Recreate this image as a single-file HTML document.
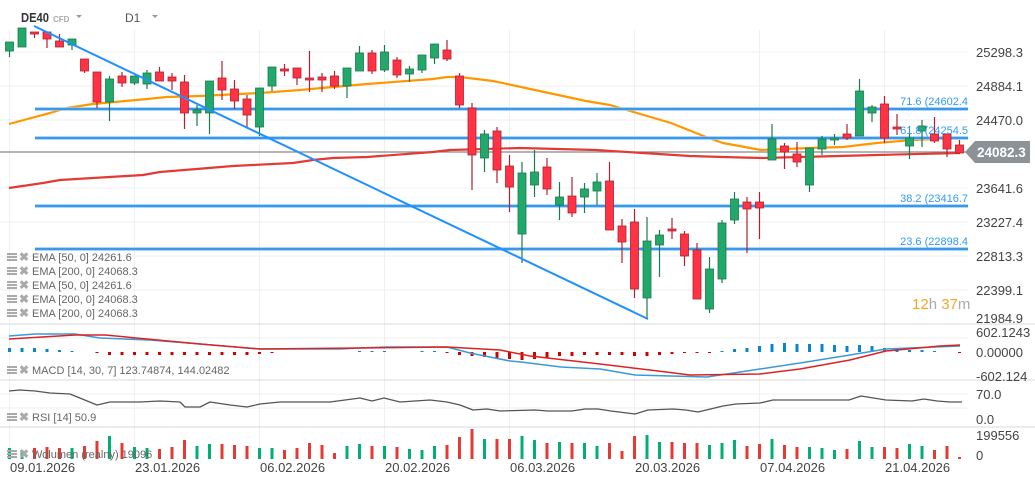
<!DOCTYPE html>
<html><head><meta charset="utf-8"><style>
html,body{margin:0;padding:0;background:#fff;}
svg{display:block;font-family:"Liberation Sans",sans-serif;}
</style></head><body>
<svg id="s" width="1035" height="485" viewBox="0 0 1035 485" xmlns="http://www.w3.org/2000/svg">
<g id="grid" stroke="#efefef" stroke-width="1"></g>
<g id="main"></g>
<g font-size="13" fill="#444">
<text x="976" y="57">25298.3</text>
<text x="976" y="91">24884.1</text>
<text x="976" y="125">24470.0</text>
<text x="976" y="193">23641.6</text>
<text x="976" y="227">23227.4</text>
<text x="976" y="261">22813.3</text>
<text x="976" y="295">22399.1</text>
<text x="976" y="323">21984.9</text>
<text x="976" y="337">602.1243</text>
<text x="976" y="357">0.00000</text>
<text x="976" y="381">-602.124</text>
<text x="976" y="399">70.0</text>
<text x="976" y="424">0.0</text>
<text x="976" y="440">199556</text>
<text x="976" y="460">0</text>
</g>
<g font-size="13" fill="#444">
<text x="10" y="472">09.01.2026</text>
<text x="135" y="472">23.01.2026</text>
<text x="260" y="472">06.02.2026</text>
<text x="385" y="472">20.02.2026</text>
<text x="510" y="472">06.03.2026</text>
<text x="635" y="472">20.03.2026</text>
<text x="760" y="472">07.04.2026</text>
<text x="885" y="472">21.04.2026</text>
</g>
<g font-size="11" fill="#3399ff">
<text x="968" y="105" text-anchor="end">71.6 (24602.4</text>
<text x="968" y="134" text-anchor="end">61.8 (24254.5</text>
<text x="968" y="202" text-anchor="end">38.2 (23416.7</text>
<text x="968" y="245" text-anchor="end">23.6 (22898.4</text>
</g>
<polygon points="965,152 975,141 1030,141 1030,163 975,163" fill="#8c9296"/>
<text x="977" y="157" font-size="13.5" font-weight="bold" fill="#fff">24082.3</text>
<text x="912" y="309" font-size="15"><tspan fill="#f5a623">12</tspan><tspan fill="#aaa">h </tspan><tspan fill="#f5a623">37</tspan><tspan fill="#aaa">m</tspan></text>
<text x="21" y="22" font-size="13" font-weight="bold" fill="#333" textLength="28" lengthAdjust="spacingAndGlyphs">DE40</text>
<text x="53" y="22" font-size="8" font-weight="bold" fill="#aaa">CFD</text>
<polygon points="76,15 82,15 79,18" fill="#999"/>
<text x="125" y="22" font-size="12" fill="#555">D1</text>
<polygon points="152,15 158,15 155,18" fill="#999"/>
<g id="leg" font-size="11" fill="#666"></g>
</svg>
<script>
var NS="http://www.w3.org/2000/svg",S=document.getElementById('s');
function el(p,t,a){var e=document.createElementNS(NS,t);for(var k in a)e.setAttribute(k,a[k]);p.appendChild(e);return e;}
var G=document.getElementById('grid'),M=document.getElementById('main');
[9.5,134.5,259.5,384.5,509.5,634.5,759.5,884.5].forEach(function(x){el(G,'line',{x1:x,y1:30,x2:x,y2:460});});
[52,86,120,188,222,256,290,338,394,408].forEach(function(y){el(G,'line',{x1:0,y1:y,x2:968,y2:y});});
[324,380,427].forEach(function(y){el(G,'line',{x1:0,y1:y,x2:1035,y2:y,stroke:'#d8d8d8'});});
function X(i){return 9.5+(i-1)*12.5;}
var C=[
['g',51,42,42,57],['g',47,28,28,47],['r',32,34,32,38],['r',32,39,32,48],['r',41,47,34,47],['g',45,39,39,50],
['r',59,71,59,73],['r',72,102,72,108],['g',102,79,76,121],['r',76,83,72,87],['g',83,76,76,85],['g',84,73,70,89],
['r',72,81,67,81],['r',77,81,73,90],['r',82,113,75,129],['g',113,110,105,126],['g',113,81,81,134],['r',78,90,61,100],
['r',89,101,80,109],['r',99,115,95,127],['g',127,88,88,136],['g',86,67,67,91],['r',69,71,64,76],['r',68,78,68,85],
['r',78,80,51,92],['r',77,80,73,92],['r',76,86,71,89],['g',86,68,68,98],['g',71,53,46,71],['r',53,71,50,74],
['g',70,52,45,72],['r',60,75,57,78],['g',74,69,66,82],['g',70,55,55,73],['g',58,44,44,64],['r',50,59,40,61],
['r',76,105,73,108],['r',108,155,103,190],['g',158,134,130,172],['r',131,170,127,183],['r',166,187,155,212],
['g',234,173,162,263],['g',185,172,150,197],['r',167,189,158,195],['g',205,197,182,220],['r',196,213,177,217],
['g',197,189,183,213],['g',191,182,173,205],['r',181,230,162,230],['r',226,242,219,263],['r',222,289,209,298],
['g',298,241,217,318],['g',245,235,230,277],['r',229,231,218,239],['r',234,256,231,266],['r',250,299,243,299],
['g',309,269,257,313],['g',279,223,220,283],['g',220,199,192,224],['r',202,209,197,253],['r',202,208,192,239],
['g',160,139,124,160],['r',146,152,143,169],['r',154,162,142,167],['g',185,148,148,192],['g',149,139,136,155],
['g',140,138,134,145],['r',134,138,124,140],['g',136,91,79,136],['g',113,107,105,122],['r',104,138,96,143],
['r',127,129,114,135],['g',146,138,126,159],['g',131,126,120,147],['r',134,141,117,143],['r',134,149,134,157],
['r',145,153,140,154]];
function pl(pts,col,w,op){el(M,'polyline',{points:pts.map(function(p){return p.join(',')}).join(' '),fill:'none',stroke:col,'stroke-width':w,'stroke-linejoin':'round',opacity:op||1});}
el(M,'line',{x1:0,y1:152,x2:966,y2:152,stroke:'#888','stroke-width':1.2});
pl([[9,188],[43,183],[60,180],[143,175],[160,172],[233,166],[293,163],[313,160],[333,158],[367,157],[433,152],[450,150],[520,148],[596,150],[690,156],[723,157],[761,158],[877,155],[960,153]],'#e53935',2.2);
pl([[9,124],[35,117],[50,113],[67,108],[93,104],[147,99],[167,97],[200,96],[260,93],[300,90],[333,87],[367,84],[433,79],[447,77],[460,77],[493,81],[521,87],[586,101],[610,105],[637,113],[671,123],[706,137],[723,143],[761,150],[809,148],[843,147],[877,143],[912,140],[960,138]],'#ff9800',2.2);
[109,138,206,249].forEach(function(y){el(M,'line',{x1:35,y1:y,x2:968,y2:y,stroke:'#90caf9','stroke-width':3.5});el(M,'line',{x1:35,y1:y,x2:968,y2:y,stroke:'#1e88e5','stroke-width':1.6});});
C.forEach(function(c,k){var x=X(k+1),g=c[0]=='g',col=g?'#22a86b':'#ff3344',wc=g?'#1b7a4c':'#b02030';
var t=Math.min(c[1],c[2]),b=Math.max(c[1],c[2]);
el(M,'line',{x1:x,y1:c[3],x2:x,y2:c[4],stroke:wc,'stroke-width':1.2});
el(M,'rect',{x:x-4,y:t,width:8,height:Math.max(b-t,1.5),fill:col,stroke:wc,'stroke-width':0.8});});
el(M,'line',{x1:34,y1:26,x2:648,y2:319,stroke:'#1e90ff','stroke-width':2});
var H=[4,4,4,3,2,1,0,-1,-3,-3,-3,-3,-3,-3,-3,-3,-3,-3,-3,-3,-2,-1,0,0,0,0,0,0,1,1,1,0,0,1,1,-1,-3,-4,-5,-6,-7,-8,-7,-6,-4,-4,-3,-3,-3,-3,-4,-4,-3,-2,-1,-1,-1,1,3,4,6,8,9,8,8,8,7,6,7,6,4,3,2,2,1,0,-1];
H.forEach(function(h,k){if(h==0)return;var x=X(k+1);el(M,'rect',{x:x-1.5,y:h>0?352-h:352,width:3,height:Math.abs(h),fill:h>0?'#0a84d0':'#d00000'});});
pl([[9,336],[35,334],[75,334],[100,338],[150,340],[200,344],[260,349],[340,349],[360,348],[385,347],[447,347],[470,353],[510,361],[521,362],[561,367],[600,369],[635,375],[707,377],[760,369],[800,363],[850,355],[886,349],[910,348],[960,346]],'#3a9ad9',1.5);
pl([[9,339],[75,335],[105,335],[200,344],[260,349],[447,347],[500,350],[530,356],[600,364],[650,370],[690,375],[760,374],[800,369],[850,360],[886,351],[940,346],[960,345]],'#dd2222',1.5);
pl([[9,391],[20,390],[35,391],[50,393],[70,394],[97,405],[110,402],[140,402],[160,401],[180,402],[185,407],[200,407],[210,402],[230,405],[247,407],[260,404],[280,402],[330,402],[360,398],[372,401],[384,398],[400,402],[430,400],[447,402],[460,405],[473,410],[487,409],[500,411],[535,410],[548,411],[572,411],[585,409],[598,409],[611,411],[635,414],[648,410],[673,409],[686,410],[698,412],[723,406],[736,404],[760,403],[773,400],[798,400],[849,400],[861,396],[886,400],[912,401],[924,399],[937,401],[950,402],[962,402]],'#555',1.3);
var V=[['g',448],['g',450],['r',448],['r',447],['r',448],['g',448],['r',446],['r',441],['g',436],['r',443],['g',447],['g',448],['r',449],['r',447],['r',440],['g',446],['g',444],['r',444],['r',445],['r',446],['g',448],['g',448],['r',450],['r',448],['r',443],['r',445],['r',453],['g',446],['g',444],['r',446],['g',446],['r',447],['g',449],['g',450],['g',446],['r',445],['r',437],['r',429],['g',439],['r',439],['r',439],['g',436],['g',440],['r',443],['g',442],['r',443],['g',443],['g',446],['r',443],['r',451],['r',436],['g',435],['g',442],['r',442],['r',443],['r',443],['g',445],['g',443],['g',440],['r',446],['r',444],['g',439],['r',445],['r',447],['g',447],['g',448],['g',450],['r',449],['g',441],['g',447],['r',447],['r',448],['g',444],['g',446],['r',450],['r',446],['r',457]];
V.forEach(function(v,k){var x=X(k+1);el(M,'rect',{x:x-1.5,y:v[1],width:3,height:459-v[1],fill:v[0]=='g'?'#00b070':'#e53935'});});
var L=document.getElementById('leg');
function leg(y,t){el(L,'rect',{x:7,y:y-8,width:10,height:2,fill:'#aaa'});el(L,'rect',{x:7,y:y-5,width:10,height:2,fill:'#aaa'});el(L,'rect',{x:7,y:y-2,width:10,height:2,fill:'#aaa'});
var a=el(L,'text',{x:19,y:y,'font-size':'12',fill:'#aaa','font-weight':'bold'});a.textContent='\u2716';
var b=el(L,'text',{x:32,y:y});b.textContent=t;}
leg(261,'EMA [50, 0] 24261.6');leg(275,'EMA [200, 0] 24068.3');leg(289,'EMA [50, 0] 24261.6');leg(303,'EMA [200, 0] 24068.3');leg(317,'EMA [200, 0] 24068.3');
leg(374,'MACD [14, 30, 7] 123.74874, 144.02482');leg(421,'RSI [14] 50.9');leg(458,'Wolumen (realny) 19096');
</script>
</body></html>
